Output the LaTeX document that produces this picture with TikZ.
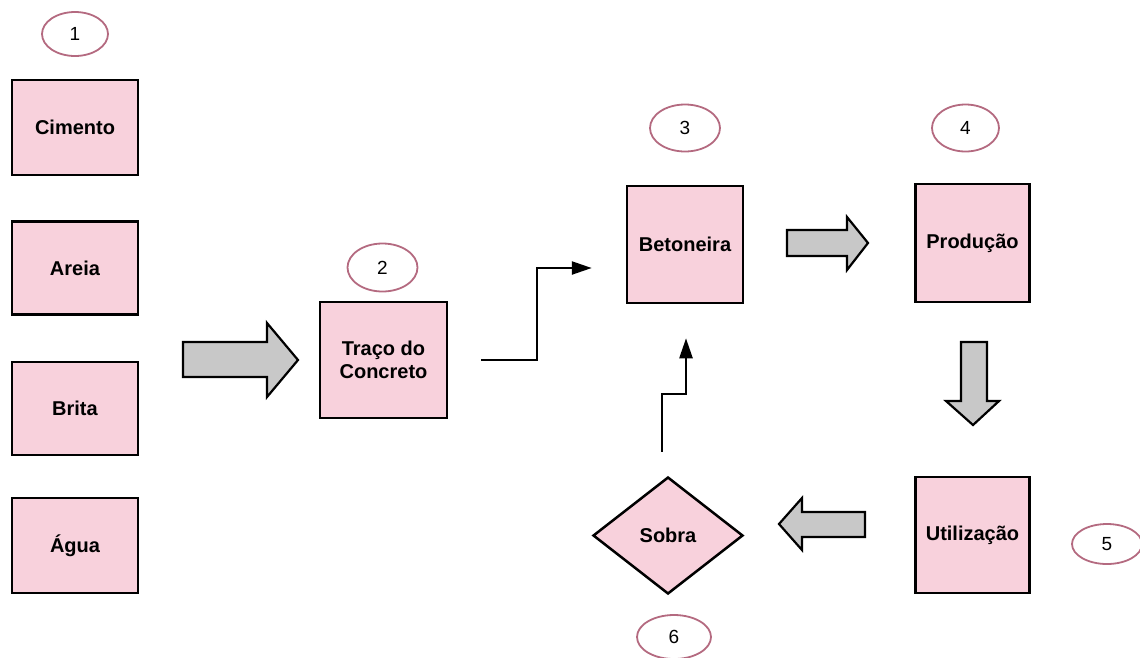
\documentclass[tikz,border=0pt]{standalone}
\usepackage{fontspec}
\setmainfont{Liberation Sans}
\usetikzlibrary{shapes.geometric,arrows.meta}
\definecolor{boxpink}{HTML}{F8D1DC}
\definecolor{ringpink}{HTML}{B46A80}
\definecolor{arrgray}{HTML}{C8C8C8}
\tikzset{
  stepbox/.style={draw=black, line width=2.5pt, fill=boxpink, font=\bfseries\fontsize{20}{23}\selectfont, align=center, inner sep=0pt},
  numring/.style={ellipse, draw=ringpink, line width=1.8pt, fill=white, minimum width=66pt, minimum height=44pt, inner sep=0pt, font=\fontsize{19}{22}\selectfont},
  blockarrow/.style={draw=black, line width=2.2pt, fill=arrgray, line join=miter},
  flowline/.style={draw=black, line width=2.4pt, -{Triangle[length=20pt,width=13pt]}},
}
\begin{document}
\begin{tikzpicture}[x=1pt,y=-1pt]
\useasboundingbox (0,0) rectangle (1140,657);
% boxes
\node[stepbox, minimum width=126pt, minimum height=95pt] (cim) at (75,127.5) {Cimento};
\node[stepbox, minimum width=126pt, minimum height=93pt] (are) at (75,268) {Areia};
\node[stepbox, minimum width=126pt, minimum height=93pt] (bri) at (75,408.5) {Brita};
\node[stepbox, minimum width=126pt, minimum height=95pt] (agu) at (75,545.5) {Água};
\node[stepbox, minimum width=127pt, minimum height=116pt] (tra) at (383.5,360) {Traço do\\Concreto};
\node[stepbox, minimum width=116pt, minimum height=117pt] (bet) at (685,244.5) {Betoneira};
\node[stepbox, minimum width=114pt, minimum height=118pt] (pro) at (972.5,243) {Produção};
\node[stepbox, minimum width=114pt, minimum height=116pt] (uti) at (972.5,535) {Utilização};
\node[diamond, draw=black, line width=2.5pt, fill=boxpink, minimum width=150pt, minimum height=117pt, inner sep=0pt, font=\bfseries\fontsize{20}{23}\selectfont] (sob) at (668,535.5) {Sobra};
% number rings
\node[numring] (n1) at (75,34) {1};
\node[numring, minimum width=70pt, minimum height=48pt] (n2) at (382.5,267.5) {2};
\node[numring, minimum width=70pt, minimum height=47pt] (n3) at (685,128) {3};
\node[numring, minimum width=67pt, minimum height=47pt] (n4) at (965.5,128) {4};
\node[numring, minimum width=70pt, minimum height=40pt] (n5) at (1107,544) {5};
\node[numring, minimum width=74pt, minimum height=44pt] (n6) at (674,637) {6};
% block arrows
\draw[blockarrow] (183,342) -- (267,342) -- (267,323) -- (298,360) -- (267,397) -- (267,377) -- (183,377) -- cycle;
\draw[blockarrow] (787,230) -- (847,230) -- (847,217) -- (868,243) -- (847,270) -- (847,256) -- (787,256) -- cycle;
\draw[blockarrow] (961,342) -- (987,342) -- (987,401) -- (999,401) -- (973,425) -- (946,401) -- (961,401) -- cycle;
\draw[blockarrow] (865,512) -- (802,512) -- (802,498) -- (779,524) -- (802,550) -- (802,537) -- (865,537) -- cycle;
% flow connectors
\coordinate (c1) at ([xshift=33pt]tra.east);
\coordinate (c2) at ([xshift=-34pt,yshift=-23.5pt]bet.west);
\draw[flowline] (c1) -- (537,360) |- (c2);
\coordinate (s1) at ([xshift=-6pt,yshift=24pt]sob.north);
\coordinate (s2) at ([xshift=1pt,yshift=-34pt]bet.south);
\draw[flowline] (s1) -- (662,394) -| (s2);
\end{tikzpicture}
\end{document}
